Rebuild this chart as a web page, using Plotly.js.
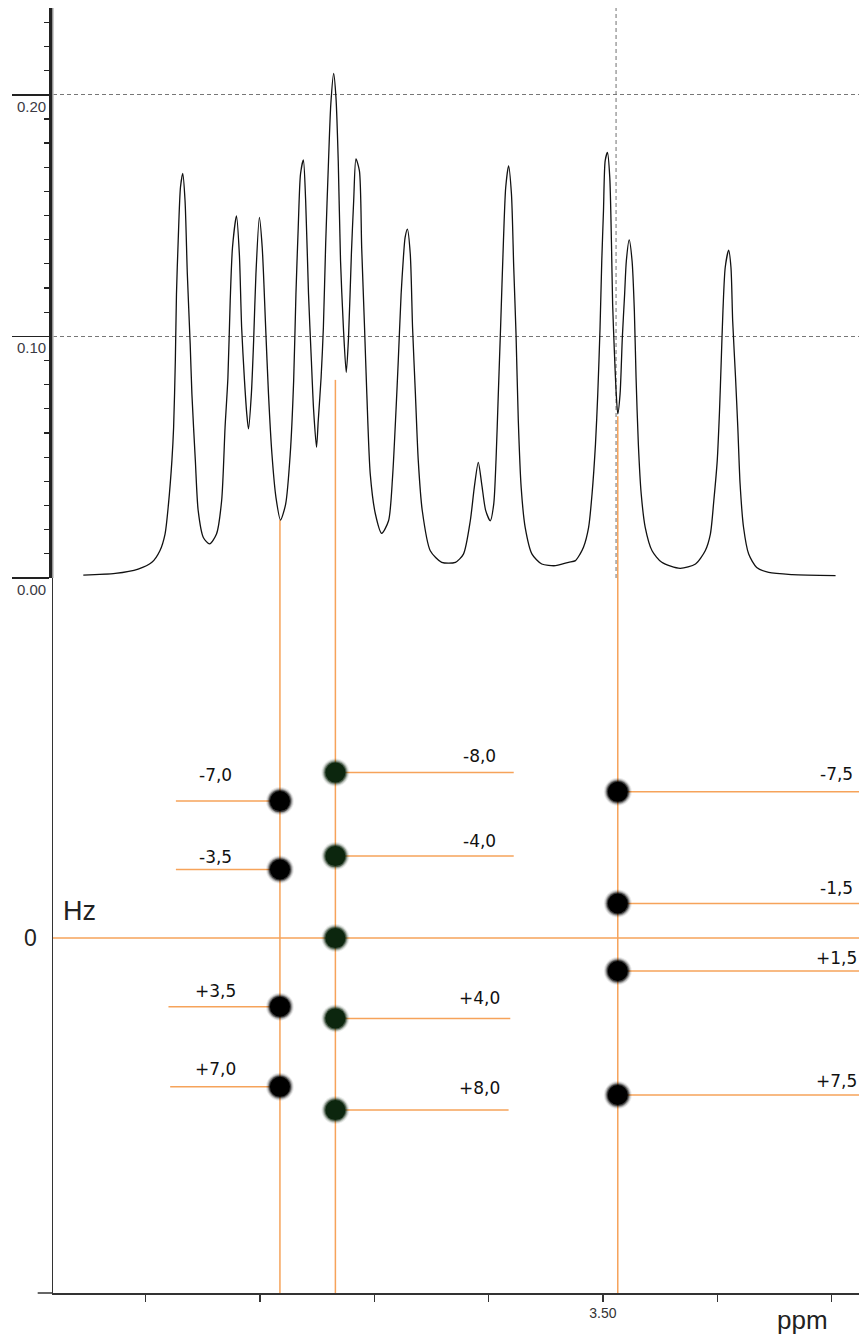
<!DOCTYPE html>
<html>
<head>
<meta charset="utf-8">
<script src="https://cdn.plot.ly/plotly-3.0.1.min.js"></script>
<style>
  html, body { margin: 0; padding: 0; background: #fff; }
  #chart { width: 859px; height: 1342px; }
</style>
</head>
<body>
<div id="chart"></div>
<script>
// ---------------- DATA ----------------
// 1D spectrum (chemical shift in ppm, intensity)
const ppm = [3.5909,3.5853,3.5813,3.5789,3.5775,3.5766,3.5760,3.5754,3.5751,3.5748,3.5746,3.5743,3.5739,3.5735,3.5731,3.5727,3.5722,3.5719,3.5713,3.5708,3.5699,3.5688,3.5676,3.5667,3.5661,3.5656,3.5652,3.5648,3.5641,3.5636,3.5632,3.5627,3.5623,3.5620,3.5615,3.5611,3.5607,3.5601,3.5596,3.5590,3.5585,3.5579,3.5572,3.5564,3.5555,3.5547,3.5541,3.5537,3.5533,3.5529,3.5524,3.5520,3.5515,3.5510,3.5506,3.5501,3.5498,3.5493,3.5489,3.5485,3.5480,3.5476,3.5471,3.5467,3.5463,3.5459,3.5454,3.5449,3.5445,3.5440,3.5436,3.5432,3.5426,3.5422,3.5417,3.5413,3.5407,3.5398,3.5387,3.5375,3.5368,3.5362,3.5358,3.5353,3.5349,3.5346,3.5342,3.5337,3.5333,3.5328,3.5323,3.5316,3.5302,3.5282,3.5258,3.5244,3.5232,3.5225,3.5218,3.5212,3.5205,3.5197,3.5191,3.5187,3.5183,3.5179,3.5174,3.5170,3.5165,3.5160,3.5156,3.5152,3.5148,3.5143,3.5136,3.5124,3.5107,3.5083,3.5060,3.5048,3.5040,3.5034,3.5025,3.5019,3.5013,3.5009,3.5005,3.5002,3.4999,3.4996,3.4992,3.4988,3.4985,3.4983,3.4980,3.4977,3.4974,3.4970,3.4966,3.4962,3.4959,3.4954,3.4949,3.4945,3.4942,3.4938,3.4933,3.4926,3.4914,3.4897,3.4865,3.4838,3.4821,3.4812,3.4806,3.4800,3.4796,3.4793,3.4790,3.4786,3.4780,3.4776,3.4773,3.4768,3.4764,3.4760,3.4754,3.4745,3.4731,3.4710,3.4669,3.4593];
const intensity = [0.0012,0.0019,0.0037,0.0065,0.0113,0.0182,0.0306,0.0486,0.0623,0.0899,0.1175,0.1396,0.1617,0.1674,0.1561,0.1258,0.0968,0.0761,0.0486,0.0279,0.0168,0.0141,0.0182,0.0320,0.0623,0.0830,0.1148,0.1368,0.1499,0.1341,0.1037,0.0817,0.0679,0.0617,0.0761,0.0982,0.1258,0.1492,0.1368,0.1037,0.0761,0.0513,0.0334,0.0240,0.0306,0.0513,0.0817,0.1175,0.1451,0.1672,0.1730,0.1561,0.1175,0.0899,0.0692,0.0541,0.0651,0.0830,0.1037,0.1382,0.1727,0.1961,0.2088,0.1989,0.1727,0.1313,0.1037,0.0851,0.0996,0.1341,0.1561,0.1734,0.1686,0.1368,0.1037,0.0761,0.0430,0.0265,0.0185,0.0237,0.0417,0.0692,0.0899,0.1175,0.1327,0.1410,0.1444,0.1341,0.1037,0.0761,0.0486,0.0279,0.0113,0.0065,0.0065,0.0099,0.0237,0.0375,0.0479,0.0389,0.0279,0.0237,0.0306,0.0486,0.0761,0.1037,0.1396,0.1617,0.1706,0.1589,0.1286,0.1010,0.0651,0.0375,0.0210,0.0099,0.0058,0.0051,0.0065,0.0072,0.0099,0.0127,0.0210,0.0348,0.0554,0.0761,0.1037,0.1313,0.1520,0.1727,0.1761,0.1658,0.1382,0.1134,0.0941,0.0775,0.0679,0.0761,0.0996,0.1175,0.1313,0.1399,0.1313,0.1106,0.0830,0.0554,0.0348,0.0210,0.0113,0.0065,0.0040,0.0058,0.0113,0.0182,0.0320,0.0486,0.0692,0.0899,0.1106,0.1286,0.1357,0.1286,0.1065,0.0830,0.0623,0.0389,0.0210,0.0099,0.0044,0.0023,0.0014,0.0010];

// J-resolved columns (ppm of each multiplet)
const columnPpm = [3.5565, 3.5468, 3.4974];
// intensity at which each guide line leaves the 1D spectrum
const columnStart = [0.024, 0.082, 0.067];
// cross-peak positions along the J axis (Hz)
const dotHz = [
  [-6.65, -3.33, 3.33, 7.22],
  [-8.04, -3.98, 0, 3.90, 8.35],
  [-7.10, -1.68, 1.60, 7.62]
];
// labels of the cross-peaks
const dotLabels = [
  ['-7,0', '-3,5', '+3,5', '+7,0'],
  ['-8,0', '-4,0', '', '+4,0', '+8,0'],
  ['-7,5', '-1,5', '+1,5', '+7,5']
];
// far end (ppm) of each label leader line
const leaderEnd = [
  [3.5747, 3.5747, 3.5760, 3.5757],
  [3.5156, 3.5156, null, 3.5162, 3.5165],
  [3.4552, 3.4552, 3.4552, 3.4552]
];
const cursorPpm = 3.4977;

// axis ticks
const xTickVals = [3.58, 3.56, 3.54, 3.52, 3.50, 3.48, 3.46];
const xTickText = ['', '', '', '', '3.50', '', ''];
const yTickVals = [0, 0.1, 0.2];
const yTickText = ['0.00', '0.10', '0.20'];

// ---------------- LAYOUT / STYLE ----------------
const X_RANGE = [3.5962, 3.4552];
const TOP_DOMAIN = [0.5564, 1];
const BOT_DOMAIN = [0, 0.5564];
const ORANGE = '#F6A35A';
const colDotColor = ['#000000', '#0c260e', '#000000'];
// label offsets (px) relative to the dot
const labelDx = [-64, 144, 219];
const labelDy = [
  [26, 12, 16, 18],
  [16, 15, 0, 20, 22],
  [18, 15, 13, 14]
];
// blurred dot: stacked marker layers (size, opacity)
const dotLayers = [[28, 0.08], [26, 0.16], [24, 0.3], [22, 0.55], [20, 1]];

const traces = [];
traces.push({
  x: ppm, y: intensity, xaxis: 'x', yaxis: 'y',
  type: 'scatter', mode: 'lines',
  line: { color: '#111', width: 1.3, shape: 'spline', smoothing: 0.7 },
  hoverinfo: 'skip'
});

const shapes = [];
const annotations = [];

// cursor (dashed vertical) in top panel
shapes.push({ type: 'line', xref: 'x', yref: 'y domain', x0: cursorPpm, x1: cursorPpm, y0: 0, y1: 1,
  line: { color: '#888', width: 1.2, dash: '4px,3px' }, layer: 'below' });

// zero line in the J panel
shapes.push({ type: 'line', xref: 'paper', yref: 'y2', x0: 0, x1: 1, y0: 0, y1: 0,
  line: { color: ORANGE, width: 1.5 }, layer: 'below' });

columnPpm.forEach((c, i) => {
  shapes.push({ type: 'line', xref: 'x', yref: 'y', x0: c, x1: c, y0: columnStart[i], y1: 0,
    line: { color: ORANGE, width: 1.5 }, layer: 'below' });
  shapes.push({ type: 'line', xref: 'x', yref: 'y2 domain', x0: c, x1: c, y0: 0, y1: 1,
    line: { color: ORANGE, width: 1.5 }, layer: 'below' });

  dotHz[i].forEach((hz, k) => {
    const end = leaderEnd[i][k];
    if (end !== null) {
      shapes.push({ type: 'line', xref: 'x', yref: 'y2', x0: c, x1: end, y0: hz, y1: hz,
        line: { color: ORANGE, width: 1.5 }, layer: 'below' });
    }
    if (dotLabels[i][k]) {
      annotations.push({ xref: 'x', yref: 'y2', x: c, y: hz, text: dotLabels[i][k],
        showarrow: false, xanchor: 'center', yanchor: 'middle',
        xshift: labelDx[i], yshift: labelDy[i][k],
        font: { family: 'DejaVu Sans, sans-serif', size: 17, color: '#111' } });
    }
  });

  const xs = dotHz[i].map(() => c);
  dotLayers.forEach(([sz, op]) => {
    traces.push({ x: xs, y: dotHz[i], xaxis: 'x', yaxis: 'y2', type: 'scatter', mode: 'markers',
      marker: { size: sz, color: colDotColor[i], opacity: op, line: { width: 0 } }, hoverinfo: 'skip' });
  });
});

// inner light stroke of the double y axis line (top panel)
shapes.push({ type: 'line', xref: 'paper', yref: 'paper', x0: 0, x1: 0, y0: TOP_DOMAIN[0], y1: 1,
  line: { color: '#bdbdbd', width: 1.5 }, layer: 'above' });
// short extension of the ppm axis line to the left of the J axis
shapes.push({ type: 'line', xref: 'paper', yref: 'paper', x0: -0.019, x1: 0, y0: 0, y1: 0,
  line: { color: '#333', width: 1.5 }, layer: 'above' });

// top panel tick labels (below tick lines)
yTickVals.forEach((v, i) => {
  annotations.push({ xref: 'paper', yref: 'y', x: 0, y: v, text: yTickText[i], showarrow: false,
    xanchor: 'right', yanchor: 'top', xshift: -5, yshift: -1,
    font: { family: 'Liberation Sans, Arial, sans-serif', size: 15, color: '#3a3a44' } });
});

// axis annotations
annotations.push({ xref: 'paper', yref: 'y2', x: 0.033, y: 0, text: 'Hz', showarrow: false,
  xanchor: 'center', yanchor: 'middle', yshift: 27,
  font: { family: 'Liberation Sans, Arial, sans-serif', size: 27, color: '#222' } });
annotations.push({ xref: 'paper', yref: 'paper', x: 0.9305, y: -0.021, text: 'ppm', showarrow: false,
  xanchor: 'center', yanchor: 'middle',
  font: { family: 'Liberation Sans, Arial, sans-serif', size: 26, color: '#222' } });

const layout = {
  width: 859, height: 1342,
  margin: { l: 53, r: 0, t: 8, b: 49, pad: 0 },
  paper_bgcolor: '#fff', plot_bgcolor: '#fff',
  showlegend: false,
  xaxis: {
    anchor: 'y2', range: X_RANGE, autorange: false,
    showline: true, linecolor: '#333', linewidth: 1.5,
    ticks: 'outside', ticklen: 7, tickwidth: 1.2, tickcolor: '#333',
    tickvals: xTickVals, ticktext: xTickText,
    tickfont: { family: 'Liberation Sans, Arial, sans-serif', size: 14, color: '#333' },
    showgrid: false, zeroline: false
  },
  yaxis: {
    domain: TOP_DOMAIN, anchor: 'x', range: [0, 0.2359], autorange: false,
    showline: true, linecolor: '#222', linewidth: 4,
    ticks: 'outside', ticklen: 37, tickwidth: 1.5, tickcolor: '#222',
    tickvals: yTickVals, showticklabels: false,
    showgrid: true, gridcolor: '#777', gridwidth: 1, griddash: '4px,3px',
    zeroline: false,
    minor: { dtick: 0.01, tick0: 0, ticks: 'outside', ticklen: 5, tickcolor: '#222', tickwidth: 1.2, showgrid: false }
  },
  yaxis2: {
    domain: BOT_DOMAIN, anchor: 'x', range: [17.23, -17.48], autorange: false,
    showline: true, linecolor: '#333', linewidth: 1.5,
    ticks: '', tickvals: [0], ticktext: ['0'], ticklabelstandoff: 10,
    tickfont: { family: 'Liberation Sans, Arial, sans-serif', size: 23, color: '#222' },
    showgrid: false, zeroline: false
  },
  shapes: shapes,
  annotations: annotations
};

Plotly.newPlot('chart', traces, layout, { displayModeBar: false, staticPlot: true });
</script>
</body>
</html>
